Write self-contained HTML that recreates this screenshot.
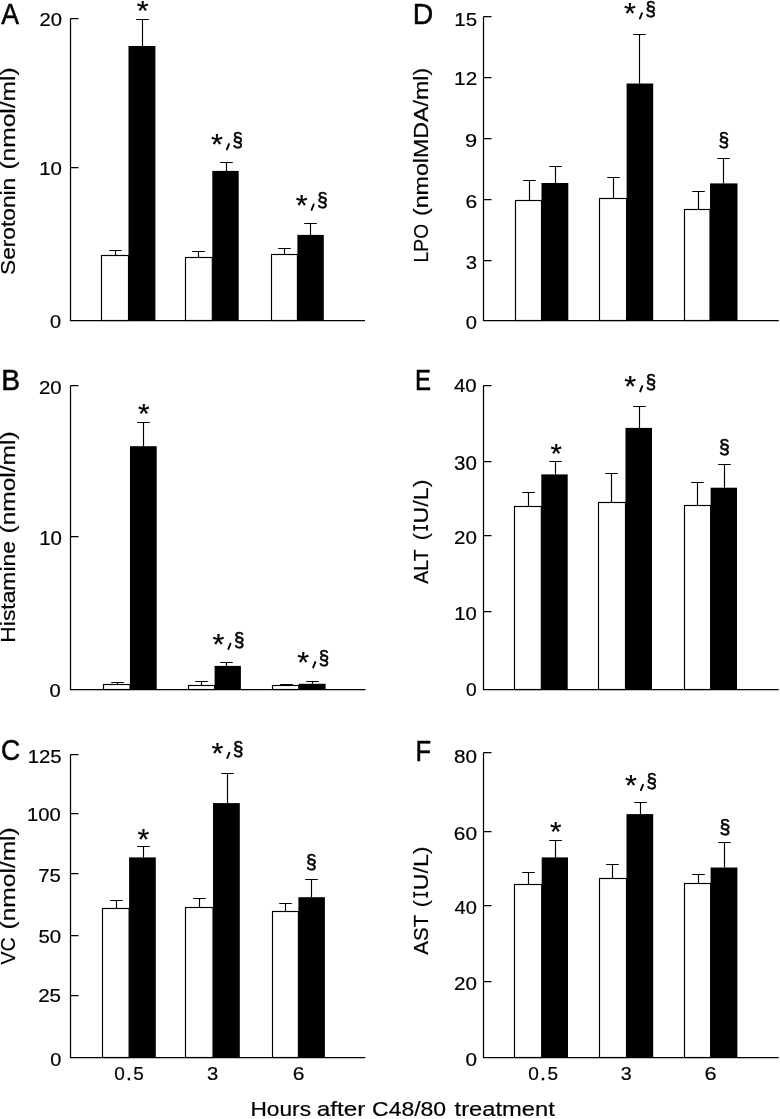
<!DOCTYPE html>
<html><head><meta charset="utf-8"><style>
html,body{margin:0;padding:0;background:#fff;width:780px;height:1119px;overflow:hidden}
svg{display:block}
text{font-family:"Liberation Sans", sans-serif;stroke:#000;stroke-width:0.2px}
svg{filter:grayscale(1)}
</style></head><body>
<svg width="780" height="1119" viewBox="0 0 780 1119" font-family='"Liberation Sans", sans-serif' fill="#000">
<rect width="780" height="1119" fill="#fff"/>
<path d="M70.5 18.5 H78.5M70.5 167.5 H78.5" stroke="#000" stroke-width="1.25"/>
<text transform="translate(39.58,25.52) scale(1.0692,1)" font-size="18.93" >20</text>
<text transform="translate(39.24,175.31) scale(1.0651,1)" font-size="19.21" >10</text>
<text transform="translate(50.12,327.92) scale(1.0741,1)" font-size="18.50" >0</text>
<path d="M115.50 255.5 V250.5 M109.20 250.5 H121.80" stroke="#000" stroke-width="1.15"/>
<rect x="101.5" y="255.5" width="27.00" height="65.00" fill="#fff" stroke="#000" stroke-width="1.15"/>
<path d="M142.50 46.0 V19.5 M136.20 19.5 H148.80" stroke="#000" stroke-width="1.15"/>
<rect x="128.5" y="46.0" width="26.90" height="274.50" fill="#000"/>
<path d="M198.50 257.5 V251.5 M192.20 251.5 H204.80" stroke="#000" stroke-width="1.15"/>
<rect x="185.5" y="257.5" width="26.80" height="63.00" fill="#fff" stroke="#000" stroke-width="1.15"/>
<path d="M226.50 170.9 V162.5 M220.20 162.5 H232.80" stroke="#000" stroke-width="1.15"/>
<rect x="212.3" y="170.9" width="26.40" height="149.60" fill="#000"/>
<path d="M284.50 254.5 V248.5 M278.20 248.5 H290.80" stroke="#000" stroke-width="1.15"/>
<rect x="271.5" y="254.5" width="25.90" height="66.00" fill="#fff" stroke="#000" stroke-width="1.15"/>
<path d="M310.50 234.9 V223.5 M304.20 223.5 H316.80" stroke="#000" stroke-width="1.15"/>
<rect x="297.4" y="234.9" width="26.40" height="85.60" fill="#000"/>
<path d="M70.5 18.5 V320.5 H365" fill="none" stroke="#000" stroke-width="1.25"/>
<text transform="translate(1.35,23.70) scale(0.9275,1)" font-size="28.78" style="stroke-width:0.5px">A</text>
<text transform="translate(15.30,275.03) rotate(-90) scale(1.0825,1)" font-size="21.00" >Serotonin</text>
<text transform="translate(15.30,169.62) rotate(-90) scale(1.1697,1)" font-size="21.00" >(nmol/ml)</text>
<path d="M70.5 385.5 H78.5M70.5 536.5 H78.5" stroke="#000" stroke-width="1.25"/>
<text transform="translate(38.97,394.42) scale(1.1042,1)" font-size="18.50" >20</text>
<text transform="translate(39.24,544.81) scale(1.0497,1)" font-size="19.49" >10</text>
<text transform="translate(49.62,697.32) scale(1.0937,1)" font-size="18.36" >0</text>
<path d="M117.50 684.5 V682.5 M111.20 682.5 H123.80" stroke="#000" stroke-width="1.15"/>
<rect x="103.5" y="684.5" width="26.50" height="5.00" fill="#fff" stroke="#000" stroke-width="1.15"/>
<path d="M143.50 446.2 V422.5 M137.20 422.5 H149.80" stroke="#000" stroke-width="1.15"/>
<rect x="130.0" y="446.2" width="26.70" height="243.30" fill="#000"/>
<path d="M201.50 685.5 V681.5 M195.20 681.5 H207.80" stroke="#000" stroke-width="1.15"/>
<rect x="188.5" y="685.5" width="26.10" height="4.00" fill="#fff" stroke="#000" stroke-width="1.15"/>
<path d="M226.50 665.9 V662.5 M220.20 662.5 H232.80" stroke="#000" stroke-width="1.15"/>
<rect x="214.6" y="665.9" width="26.30" height="23.60" fill="#000"/>
<path d="M286.50 685.5 V684.5 M280.20 684.5 H292.80" stroke="#000" stroke-width="1.15"/>
<rect x="272.5" y="685.5" width="26.30" height="4.00" fill="#fff" stroke="#000" stroke-width="1.15"/>
<path d="M312.50 683.8 V681.5 M306.20 681.5 H318.80" stroke="#000" stroke-width="1.15"/>
<rect x="298.8" y="683.8" width="26.80" height="5.70" fill="#000"/>
<path d="M70.5 385.5 V689.5 H365.5" fill="none" stroke="#000" stroke-width="1.25"/>
<text transform="translate(1.17,389.70) scale(0.9858,1)" font-size="28.78" style="stroke-width:0.5px">B</text>
<text transform="translate(15.30,642.67) rotate(-90) scale(1.0881,1)" font-size="21.00" >Histamine</text>
<text transform="translate(15.30,533.42) rotate(-90) scale(1.1662,1)" font-size="21.00" >(nmol/ml)</text>
<path d="M70.5 754.5 H78.5M70.5 813.5 H78.5M70.5 873.5 H78.5M70.5 935.5 H78.5M70.5 995.5 H78.5" stroke="#000" stroke-width="1.25"/>
<text transform="translate(27.64,762.62) scale(1.0968,1)" font-size="18.64" >125</text>
<text transform="translate(27.06,820.62) scale(1.1095,1)" font-size="18.22" >100</text>
<text transform="translate(38.26,881.52) scale(1.0820,1)" font-size="18.77" >75</text>
<text transform="translate(38.48,943.42) scale(1.1208,1)" font-size="18.22" >50</text>
<text transform="translate(38.16,1002.42) scale(1.1127,1)" font-size="18.50" >25</text>
<text transform="translate(50.22,1065.61) scale(1.0423,1)" font-size="19.07" >0</text>
<path d="M116.50 908.5 V900.5 M110.20 900.5 H122.80" stroke="#000" stroke-width="1.15"/>
<rect x="102.5" y="908.5" width="26.60" height="149.00" fill="#fff" stroke="#000" stroke-width="1.15"/>
<path d="M143.50 857.4 V846.5 M137.20 846.5 H149.80" stroke="#000" stroke-width="1.15"/>
<rect x="129.1" y="857.4" width="26.70" height="200.10" fill="#000"/>
<path d="M199.50 907.5 V898.5 M193.20 898.5 H205.80" stroke="#000" stroke-width="1.15"/>
<rect x="185.5" y="907.5" width="27.50" height="150.00" fill="#fff" stroke="#000" stroke-width="1.15"/>
<path d="M227.50 803.1 V773.5 M221.20 773.5 H233.80" stroke="#000" stroke-width="1.15"/>
<rect x="213.0" y="803.1" width="26.80" height="254.40" fill="#000"/>
<path d="M285.50 911.5 V903.5 M279.20 903.5 H291.80" stroke="#000" stroke-width="1.15"/>
<rect x="272.5" y="911.5" width="25.90" height="146.00" fill="#fff" stroke="#000" stroke-width="1.15"/>
<path d="M311.50 897.2 V879.5 M305.20 879.5 H317.80" stroke="#000" stroke-width="1.15"/>
<rect x="298.4" y="897.2" width="26.50" height="160.30" fill="#000"/>
<path d="M70.5 754.5 V1057.5 H365.2" fill="none" stroke="#000" stroke-width="1.25"/>
<text transform="translate(0.95,760.22) scale(0.9207,1)" font-size="28.81" style="stroke-width:0.5px">C</text>
<text transform="translate(15.20,964.49) rotate(-90) scale(0.9370,1)" font-size="21.00" >VC</text>
<text transform="translate(15.20,929.42) rotate(-90) scale(1.1674,1)" font-size="21.00" >(nmol/ml)</text>
<path d="M483.5 16.5 H491.5M483.5 77.5 H491.5M483.5 138.5 H491.5M483.5 199.5 H491.5M483.5 260.5 H491.5" stroke="#000" stroke-width="1.25"/>
<text transform="translate(454.24,25.61) scale(1.0685,1)" font-size="19.20" >15</text>
<text transform="translate(454.12,85.30) scale(1.0835,1)" font-size="19.19" >12</text>
<text transform="translate(465.08,146.52) scale(1.1640,1)" font-size="18.79" >9</text>
<text transform="translate(465.43,207.72) scale(1.1275,1)" font-size="18.64" >6</text>
<text transform="translate(465.83,268.52) scale(1.0698,1)" font-size="18.93" >3</text>
<text transform="translate(465.82,329.11) scale(1.0532,1)" font-size="19.07" >0</text>
<path d="M529.50 200.5 V180.5 M523.20 180.5 H535.80" stroke="#000" stroke-width="1.15"/>
<rect x="515.5" y="200.5" width="26.00" height="120.00" fill="#fff" stroke="#000" stroke-width="1.15"/>
<path d="M555.50 183.0 V166.5 M549.20 166.5 H561.80" stroke="#000" stroke-width="1.15"/>
<rect x="541.5" y="183.0" width="26.80" height="137.50" fill="#000"/>
<path d="M613.50 198.5 V177.5 M607.20 177.5 H619.80" stroke="#000" stroke-width="1.15"/>
<rect x="599.5" y="198.5" width="27.10" height="122.00" fill="#fff" stroke="#000" stroke-width="1.15"/>
<path d="M639.50 83.5 V34.5 M633.20 34.5 H645.80" stroke="#000" stroke-width="1.15"/>
<rect x="626.6" y="83.5" width="26.60" height="237.00" fill="#000"/>
<path d="M698.50 209.5 V191.5 M692.20 191.5 H704.80" stroke="#000" stroke-width="1.15"/>
<rect x="684.5" y="209.5" width="25.50" height="111.00" fill="#fff" stroke="#000" stroke-width="1.15"/>
<path d="M723.50 183.4 V158.5 M717.20 158.5 H729.80" stroke="#000" stroke-width="1.15"/>
<rect x="710.0" y="183.4" width="27.50" height="137.10" fill="#000"/>
<path d="M483.5 16.5 V320.5 H778.8" fill="none" stroke="#000" stroke-width="1.25"/>
<text transform="translate(412.67,23.80) scale(0.9806,1)" font-size="28.92" style="stroke-width:0.5px">D</text>
<text transform="translate(427.70,262.38) rotate(-90) scale(0.9162,1)" font-size="21.00" >LPO</text>
<text transform="translate(427.70,216.04) rotate(-90) scale(1.1060,1)" font-size="21.00" >(nmolMDA/ml)</text>
<path d="M483.5 385.5 H491.5M483.5 461.5 H491.5M483.5 535.5 H491.5M483.5 611.5 H491.5" stroke="#000" stroke-width="1.25"/>
<text transform="translate(454.03,392.12) scale(1.0847,1)" font-size="18.79" >40</text>
<text transform="translate(454.02,469.91) scale(1.0584,1)" font-size="19.35" >30</text>
<text transform="translate(453.97,543.82) scale(1.0847,1)" font-size="18.93" >20</text>
<text transform="translate(454.26,619.92) scale(1.1119,1)" font-size="18.22" >10</text>
<text transform="translate(466.05,695.62) scale(1.0402,1)" font-size="18.50" >0</text>
<path d="M528.50 506.5 V492.5 M522.20 492.5 H534.80" stroke="#000" stroke-width="1.15"/>
<rect x="514.5" y="506.5" width="26.80" height="183.00" fill="#fff" stroke="#000" stroke-width="1.15"/>
<path d="M555.50 474.4 V461.5 M549.20 461.5 H561.80" stroke="#000" stroke-width="1.15"/>
<rect x="541.3" y="474.4" width="26.40" height="215.10" fill="#000"/>
<path d="M611.50 502.5 V473.5 M605.20 473.5 H617.80" stroke="#000" stroke-width="1.15"/>
<rect x="598.5" y="502.5" width="27.00" height="187.00" fill="#fff" stroke="#000" stroke-width="1.15"/>
<path d="M639.50 427.9 V406.5 M633.20 406.5 H645.80" stroke="#000" stroke-width="1.15"/>
<rect x="625.5" y="427.9" width="26.50" height="261.60" fill="#000"/>
<path d="M697.50 505.5 V482.5 M691.20 482.5 H703.80" stroke="#000" stroke-width="1.15"/>
<rect x="684.5" y="505.5" width="26.10" height="184.00" fill="#fff" stroke="#000" stroke-width="1.15"/>
<path d="M724.50 487.7 V464.5 M718.20 464.5 H730.80" stroke="#000" stroke-width="1.15"/>
<rect x="710.6" y="487.7" width="26.40" height="201.80" fill="#000"/>
<path d="M483.5 385.5 V689.5 H778.8" fill="none" stroke="#000" stroke-width="1.25"/>
<text transform="translate(415.03,389.70) scale(0.8334,1)" font-size="28.78" style="stroke-width:0.5px">E</text>
<text transform="translate(427.70,583.64) rotate(-90) scale(0.9292,1)" font-size="21.00" >ALT</text>
<text transform="translate(427.70,540.33) rotate(-90) scale(1.0237,1)" font-size="21.00" >(</text>
<path d="M414.20 527.90 H427.00 M414.20 525.00 V530.80 M427.00 525.00 V530.80" stroke="#000" stroke-width="1.8" fill="none"/>
<text transform="translate(427.70,523.49) rotate(-90) scale(1.1075,1)" font-size="21.00" >U/L)</text>
<path d="M483.5 752.5 H491.5M483.5 831.5 H491.5M483.5 905.5 H491.5M483.5 981.5 H491.5" stroke="#000" stroke-width="1.25"/>
<text transform="translate(454.10,762.71) scale(1.0768,1)" font-size="19.21" >80</text>
<text transform="translate(453.84,839.71) scale(1.0896,1)" font-size="19.21" >60</text>
<text transform="translate(454.54,913.62) scale(1.0806,1)" font-size="18.50" >40</text>
<text transform="translate(453.97,989.62) scale(1.0847,1)" font-size="18.93" >20</text>
<text transform="translate(465.59,1066.42) scale(1.0942,1)" font-size="18.93" >0</text>
<path d="M528.50 884.5 V872.5 M522.20 872.5 H534.80" stroke="#000" stroke-width="1.15"/>
<rect x="514.5" y="884.5" width="27.20" height="173.00" fill="#fff" stroke="#000" stroke-width="1.15"/>
<path d="M555.50 857.4 V840.5 M549.20 840.5 H561.80" stroke="#000" stroke-width="1.15"/>
<rect x="541.7" y="857.4" width="26.30" height="200.10" fill="#000"/>
<path d="M612.50 878.5 V864.5 M606.20 864.5 H618.80" stroke="#000" stroke-width="1.15"/>
<rect x="599.5" y="878.5" width="27.00" height="179.00" fill="#fff" stroke="#000" stroke-width="1.15"/>
<path d="M640.50 814.1 V802.5 M634.20 802.5 H646.80" stroke="#000" stroke-width="1.15"/>
<rect x="626.5" y="814.1" width="26.70" height="243.40" fill="#000"/>
<path d="M698.50 883.5 V874.5 M692.20 874.5 H704.80" stroke="#000" stroke-width="1.15"/>
<rect x="684.5" y="883.5" width="26.10" height="174.00" fill="#fff" stroke="#000" stroke-width="1.15"/>
<path d="M724.50 867.5 V842.5 M718.20 842.5 H730.80" stroke="#000" stroke-width="1.15"/>
<rect x="710.6" y="867.5" width="26.80" height="190.00" fill="#000"/>
<path d="M483.5 752.5 V1057.5 H778.8" fill="none" stroke="#000" stroke-width="1.25"/>
<text transform="translate(415.50,760.60) scale(0.8886,1)" font-size="28.78" style="stroke-width:0.5px">F</text>
<text transform="translate(427.70,954.74) rotate(-90) scale(0.9797,1)" font-size="21.00" >AST</text>
<text transform="translate(427.70,907.13) rotate(-90) scale(1.0237,1)" font-size="21.00" >(</text>
<path d="M414.20 894.70 H427.00 M414.20 891.80 V897.60 M427.00 891.80 V897.60" stroke="#000" stroke-width="1.8" fill="none"/>
<text transform="translate(427.70,890.29) rotate(-90) scale(1.1075,1)" font-size="21.00" >U/L)</text>
<text transform="translate(136.70,20.40) scale(1.0914,1)" font-size="28.20" stroke="#000" stroke-width="0.1">*</text>
<text transform="translate(138.02,423.31) scale(1.0948,1)" font-size="27.34" stroke="#000" stroke-width="0.1">*</text>
<text transform="translate(137.61,849.38) scale(1.0395,1)" font-size="29.34" stroke="#000" stroke-width="0.1">*</text>
<text transform="translate(550.43,462.80) scale(1.0215,1)" font-size="28.48" stroke="#000" stroke-width="0.1">*</text>
<text transform="translate(549.93,841.40) scale(1.0314,1)" font-size="28.48" stroke="#000" stroke-width="0.1">*</text>
<text transform="translate(306.12,869.14) scale(0.9163,1)" font-size="20.90" style="stroke-width:0.6px">§</text>
<text transform="translate(718.62,147.34) scale(0.9163,1)" font-size="20.90" style="stroke-width:0.6px">§</text>
<text transform="translate(719.01,454.23) scale(0.9216,1)" font-size="21.02" style="stroke-width:0.6px">§</text>
<text transform="translate(719.40,833.67) scale(0.9491,1)" font-size="20.65" style="stroke-width:0.6px">§</text>
<text transform="translate(211.01,154.29) scale(1.0600,1)" font-size="28.77" stroke="#000" stroke-width="0.1">*</text>
<path d="M229.00 144.10 L226.90 149.40" stroke="#000" stroke-width="1.9" stroke-linecap="round"/>
<text transform="translate(232.55,146.90) scale(0.9220,1)" font-size="20.28" style="stroke-width:0.6px">§</text>
<text transform="translate(295.71,214.69) scale(1.0600,1)" font-size="28.77" stroke="#000" stroke-width="0.1">*</text>
<path d="M313.70 204.50 L311.60 209.80" stroke="#000" stroke-width="1.9" stroke-linecap="round"/>
<text transform="translate(317.25,207.30) scale(0.9220,1)" font-size="20.28" style="stroke-width:0.6px">§</text>
<text transform="translate(212.51,653.89) scale(1.0600,1)" font-size="28.77" stroke="#000" stroke-width="0.1">*</text>
<path d="M230.50 643.70 L228.40 649.00" stroke="#000" stroke-width="1.9" stroke-linecap="round"/>
<text transform="translate(234.05,646.50) scale(0.9220,1)" font-size="20.28" style="stroke-width:0.6px">§</text>
<text transform="translate(297.31,672.29) scale(1.0600,1)" font-size="28.77" stroke="#000" stroke-width="0.1">*</text>
<path d="M315.30 662.10 L313.20 667.40" stroke="#000" stroke-width="1.9" stroke-linecap="round"/>
<text transform="translate(318.85,664.90) scale(0.9220,1)" font-size="20.28" style="stroke-width:0.6px">§</text>
<text transform="translate(211.41,762.89) scale(1.0600,1)" font-size="28.77" stroke="#000" stroke-width="0.1">*</text>
<path d="M229.40 752.70 L227.30 758.00" stroke="#000" stroke-width="1.9" stroke-linecap="round"/>
<text transform="translate(232.95,755.50) scale(0.9220,1)" font-size="20.28" style="stroke-width:0.6px">§</text>
<text transform="translate(624.01,23.39) scale(1.0600,1)" font-size="28.77" stroke="#000" stroke-width="0.1">*</text>
<path d="M642.00 13.20 L639.90 18.50" stroke="#000" stroke-width="1.9" stroke-linecap="round"/>
<text transform="translate(645.55,16.00) scale(0.9220,1)" font-size="20.28" style="stroke-width:0.6px">§</text>
<text transform="translate(624.31,396.29) scale(1.0600,1)" font-size="28.77" stroke="#000" stroke-width="0.1">*</text>
<path d="M642.30 386.10 L640.20 391.40" stroke="#000" stroke-width="1.9" stroke-linecap="round"/>
<text transform="translate(645.85,388.90) scale(0.9220,1)" font-size="20.28" style="stroke-width:0.6px">§</text>
<text transform="translate(625.01,794.99) scale(1.0600,1)" font-size="28.77" stroke="#000" stroke-width="0.1">*</text>
<path d="M643.00 784.80 L640.90 790.10" stroke="#000" stroke-width="1.9" stroke-linecap="round"/>
<text transform="translate(646.55,787.60) scale(0.9220,1)" font-size="20.28" style="stroke-width:0.6px">§</text>
<text transform="translate(114.16,1080.11) scale(0.9910,1)" font-size="19.21" >0</text>
<rect x="127.70" y="1077.80" width="2.4" height="2.5"/>
<text transform="translate(133.34,1080.11) scale(0.9884,1)" font-size="19.20" >5</text>
<text transform="translate(528.26,1080.11) scale(0.9910,1)" font-size="19.21" >0</text>
<rect x="541.80" y="1077.80" width="2.4" height="2.5"/>
<text transform="translate(547.44,1080.11) scale(0.9884,1)" font-size="19.20" >5</text>
<text transform="translate(206.93,1080.11) scale(1.0541,1)" font-size="19.21" >3</text>
<text transform="translate(292.73,1080.11) scale(1.0944,1)" font-size="19.21" >6</text>
<text transform="translate(620.75,1080.11) scale(1.0212,1)" font-size="19.21" >3</text>
<text transform="translate(704.60,1080.11) scale(1.1282,1)" font-size="19.21" >6</text>
<text transform="translate(250.44,1115.50) scale(1.0927,1)" font-size="20.79" >Hours</text>
<text transform="translate(316.77,1115.50) scale(1.1694,1)" font-size="20.79" >after</text>
<text transform="translate(372.03,1115.50) scale(1.1066,1)" font-size="20.79" >C48/80</text>
<text transform="translate(454.54,1115.50) scale(1.1428,1)" font-size="20.79" >treatment</text>
</svg>
</body></html>
